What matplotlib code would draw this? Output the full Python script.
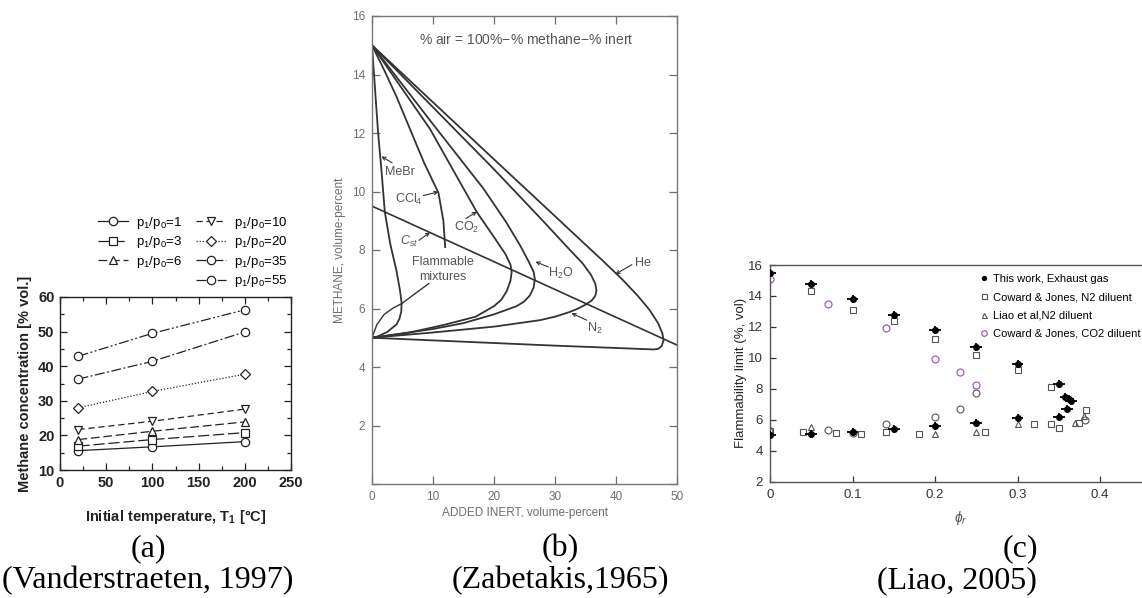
import matplotlib
matplotlib.use("Agg")
import matplotlib.pyplot as plt
from matplotlib.lines import Line2D
from matplotlib.ticker import MultipleLocator

plt.rcParams['font.family'] = ['Liberation Sans', 'DejaVu Sans']
plt.rcParams['mathtext.fontset'] = 'custom'
plt.rcParams['mathtext.rm'] = 'Liberation Sans'
plt.rcParams['mathtext.it'] = 'Liberation Sans:italic'

W, H = 1142, 598

# ---------------- Panel (a) data ----------------
a_temps = [20, 100, 200]
a_ratios = ['1', '3', '6', '10', '20', '35', '55']
a_values = {
    '1':  [15.6, 16.7, 18.2],
    '3':  [16.9, 18.8, 20.8],
    '6':  [18.8, 21.2, 23.9],
    '10': [21.7, 24.1, 27.6],
    '20': [28.0, 32.7, 37.7],
    '35': [36.3, 41.4, 49.9],
    '55': [42.9, 49.5, 56.3],
}
a_markers = {'1': 'o', '3': 's', '6': '^', '10': 'v', '20': 'D', '35': 'o', '55': 'o'}
a_styles = {'1': '-', '3': (0, (9, 3)), '6': (0, (7, 3)), '10': (0, (5, 3)),
            '20': (0, (1, 1.5)), '35': (0, (8, 2, 1.5, 2)), '55': (0, (8, 2, 1.5, 2, 1.5, 2))}

# ---------------- Panel (b) data ----------------
b_curves = {
    'He':   ([0, 20, 38, 41, 43.5, 45.5, 46.9, 47.6, 47.8, 47.5, 46.9, 46.2, 40, 30, 20, 10, 0],
             [15, 11.1, 7.6, 7.0, 6.45, 5.95, 5.5, 5.15, 4.92, 4.72, 4.62, 4.6, 4.65, 4.73, 4.82, 4.91, 5.0]),
    'N2':   ([0, 10, 20, 28, 32, 34.5, 35.9, 36.6, 36.8, 36.6, 36.0, 35.0, 33.8, 32.4, 30, 27.5, 20, 10, 0],
             [15, 12.88, 10.76, 9.0, 8.1, 7.55, 7.15, 6.85, 6.62, 6.43, 6.27, 6.13, 6.0, 5.88, 5.72, 5.6, 5.38, 5.18, 5.0]),
    'H2O':  ([0, 10, 18.3, 22, 24.3, 25.7, 26.5, 26.7, 26.5, 25.9, 24.9, 23.7, 20, 15, 10, 5, 0],
             [15, 12.3, 10.09, 8.95, 8.15, 7.6, 7.25, 7.0, 6.72, 6.45, 6.23, 6.08, 5.8, 5.5, 5.3, 5.15, 5.0]),
    'CO2':  ([0, 9.5, 17.2, 20.3, 21.9, 22.7, 22.9, 22.7, 22.1, 21.2, 20.0, 17, 12, 6, 0],
             [15, 12.14, 9.29, 8.35, 7.85, 7.5, 7.25, 6.95, 6.6, 6.3, 6.08, 5.72, 5.45, 5.17, 5.0]),
    'CCl4': ([0, 2, 4, 6.3, 8.5, 10.9, 11.7, 12.0],
             [15, 14.15, 13.25, 12.1, 11.0, 9.95, 9.0, 8.1]),
    'MeBr': ([0, 0.5, 1.0, 1.6, 2.1, 3.0, 4.0, 4.6, 4.85, 4.8, 4.5, 4.0, 2.5, 1.0, 0],
             [15, 13.5, 12.0, 10.6, 9.3, 8.2, 7.3, 6.6, 6.2, 5.9, 5.65, 5.45, 5.2, 5.05, 5.0]),
}
b_stoich_x = [0, 50]
b_stoich_y = [9.5, 4.75]
b_flam_pointer_x = [0, 0.8, 2.0, 3.5, 4.9, 7.0, 9.3]
b_flam_pointer_y = [5.0, 5.45, 5.8, 6.02, 6.17, 6.5, 6.85]
# label, text centre, arrow tail, arrow head
b_labels = [
    ('MeBr', (4.6, 10.65), (3.3, 10.98), (1.55, 11.2)),
    ('CCl$_4$', (6.0, 9.72), (8.4, 9.86), (10.9, 9.99)),
    ('CO$_2$', (15.5, 8.77), (15.4, 9.08), (17.2, 9.31)),
    ('$C_{st}$', (6.1, 8.3), (7.7, 8.33), (9.5, 8.6)),
    ('H$_2$O', (31.0, 7.2), (28.9, 7.42), (26.8, 7.6)),
    ('N$_2$', (36.6, 5.33), (35.2, 5.6), (32.7, 5.84)),
    ('He', (44.4, 7.55), (42.6, 7.5), (39.9, 7.17)),
]

# ---------------- Panel (c) data ----------------
c_this_x = [0, 0, 0.05, 0.05, 0.1, 0.1, 0.15, 0.15, 0.2, 0.2, 0.25, 0.25, 0.3, 0.3,
            0.35, 0.35, 0.358, 0.362, 0.365, 0.36]
c_this_y = [15.5, 5.0, 14.8, 5.1, 13.8, 5.2, 12.8, 5.4, 11.8, 5.6, 10.7, 5.8, 9.6, 6.1,
            8.3, 6.2, 7.5, 7.35, 7.2, 6.7]
c_cjn2_x = [0, 0.04, 0.05, 0.08, 0.1, 0.11, 0.14, 0.15, 0.18, 0.2, 0.25, 0.26, 0.3,
            0.32, 0.34, 0.34, 0.35, 0.375, 0.383]
c_cjn2_y = [5.3, 5.2, 14.3, 5.15, 13.1, 5.1, 5.2, 12.35, 5.05, 11.2, 10.2, 5.2, 9.2,
            5.7, 8.1, 5.7, 5.5, 5.8, 6.65]
c_liao_x = [0, 0.05, 0.2, 0.25, 0.3, 0.37, 0.38]
c_liao_y = [5.4, 5.55, 5.1, 5.2, 5.75, 5.8, 6.25]
c_cjco2_x = [0, 0.07, 0.14, 0.2, 0.23, 0.25]
c_cjco2_y = [15.1, 13.45, 11.9, 9.95, 9.1, 8.25]
c_grey_x = [0.07, 0.1, 0.14, 0.2, 0.23, 0.25, 0.382]
c_grey_y = [5.35, 5.15, 5.75, 6.2, 6.7, 7.75, 6.0]

captions = [('(a)', '(Vanderstraeten, 1997)', 148, 148),
            ('(b)', '(Zabetakis,1965)', 560, 560),
            ('(c)', '(Liao, 2005)', 1020, 957)]


def ax_rect(x0, y0, x1, y1):
    return [x0 / W, 1 - y1 / H, (x1 - x0) / W, (y1 - y0) / H]


fig = plt.figure(figsize=(W / 100, H / 100), dpi=100)

# ================= Panel (a) =================
axa = fig.add_axes(ax_rect(60, 297, 291, 470))
handles = []
for r in a_ratios:
    h, = axa.plot(a_temps, a_values[r], color='#222222', lw=0.9, ls=a_styles[r],
                  marker=a_markers[r], ms=6 if a_markers[r] != 'D' else 5,
                  mfc='white', mec='#222222', mew=0.9,
                  label=r'p$_\mathregular{1}$/p$_\mathregular{0}$=' + r)
    handles.append(h)
axa.set_xlim(0, 250)
axa.set_ylim(10, 60)
axa.xaxis.set_major_locator(MultipleLocator(50))
axa.xaxis.set_minor_locator(MultipleLocator(25))
axa.yaxis.set_major_locator(MultipleLocator(10))
axa.yaxis.set_minor_locator(MultipleLocator(5))
axa.tick_params(which='both', direction='in', top=True, right=True, width=0.9,
                labelsize=10.5, colors='#222222', pad=4)
axa.tick_params(which='major', length=5)
axa.tick_params(which='minor', length=3)
for lab in axa.get_xticklabels() + axa.get_yticklabels():
    lab.set_fontweight('bold')
for s in axa.spines.values():
    s.set_linewidth(1.0)
    s.set_color('#222222')
axa.set_ylabel('Methane concentration [% vol.]', fontsize=10.5, fontweight='bold',
               color='#222222', labelpad=4)
axa.set_xlabel(r'Initial temperature, T$_\mathregular{1}$ [°C]', fontsize=10.5,
               fontweight='bold', color='#222222', labelpad=13)
blank = Line2D([], [], lw=0, marker=None)
leg_h = handles[:3] + [blank] + handles[3:]
leg_l = [h.get_label() for h in handles[:3]] + [''] + [h.get_label() for h in handles[3:]]
fig.legend(leg_h, leg_l, ncol=2, loc='upper left', bbox_to_anchor=(98 / W, 1 - 215 / H),
           frameon=False, fontsize=9.5, handlelength=2.3, handletextpad=0.6,
           columnspacing=1.0, labelspacing=0.26, borderaxespad=0, borderpad=0)

# ================= Panel (b) =================
grey = '#6e6e6e'
axb = fig.add_axes(ax_rect(372, 16, 677, 484))
for name, (xs, ys) in b_curves.items():
    axb.plot(xs, ys, color='#333333', lw=1.3, solid_joinstyle='round')
axb.plot(b_stoich_x, b_stoich_y, color='#333333', lw=1.2)
axb.plot(b_flam_pointer_x, b_flam_pointer_y, color='#333333', lw=1.0)
for txt, tpos, tail, head in b_labels:
    axb.annotate('', xy=head, xytext=tail,
                 arrowprops=dict(arrowstyle='->', color='#333333', lw=0.8, mutation_scale=6,
                                 shrinkA=0, shrinkB=0))
    axb.text(tpos[0], tpos[1], txt, fontsize=9, color='#555555', ha='center', va='center')
axb.text(11.6, 7.58, 'Flammable', fontsize=9, color='#555555', ha='center', va='center')
axb.text(11.6, 7.08, 'mixtures', fontsize=9, color='#555555', ha='center', va='center')
axb.text(25.2, 15.2, '% air = 100%$-$% methane$-$% inert', fontsize=10, color='#555555',
         ha='center', va='center')
axb.set_xlim(0, 50)
axb.set_ylim(0, 16)
axb.xaxis.set_major_locator(MultipleLocator(10))
axb.set_yticks([0, 2, 4, 6, 8, 10, 12, 14, 16])
axb.set_yticklabels(['', '2', '4', '6', '8', '10', '12', '14', '16'])
axb.tick_params(direction='in', top=True, right=True, length=6, width=0.9, colors=grey,
                labelsize=8.5, pad=5)
for s in axb.spines.values():
    s.set_linewidth(1.0)
    s.set_color('#777777')
axb.set_ylabel('METHANE, volume-percent', fontsize=8.5, color=grey, labelpad=4)
axb.set_xlabel('ADDED INERT, volume-percent', fontsize=8.5, color=grey, labelpad=3)

# ================= Panel (c) =================
axc = fig.add_axes(ax_rect(770, 265, 1152, 481.7))
axc.errorbar(c_this_x, c_this_y, xerr=0.007, yerr=0.25, fmt='o', ms=4, color='black',
             ecolor='black', elinewidth=1.3, capsize=0, zorder=5)
h_this = Line2D([], [], ls='none', marker='o', ms=3.5, color='black',
                label='This work, Exhaust gas')
h_n2, = axc.plot(c_cjn2_x, c_cjn2_y, 's', ms=4.5, mfc='none', mec='#555555', mew=0.8,
                 label='Coward & Jones, N2 diluent')
h_liao, = axc.plot(c_liao_x, c_liao_y, '^', ms=4.5, mfc='none', mec='#555555', mew=0.8,
                   label='Liao et al,N2 diluent')
h_co2, = axc.plot(c_cjco2_x, c_cjco2_y, 'o', ms=5, mfc='none', mec='#a060b0', mew=0.9,
                  label='Coward & Jones, CO2 diluent')
axc.plot(c_grey_x, c_grey_y, 'o', ms=5, mfc='none', mec='#555555', mew=0.8)
axc.set_xlim(0, 0.463)
axc.set_ylim(2, 16)
axc.yaxis.set_major_locator(MultipleLocator(2))
axc.set_xticks([0, 0.1, 0.2, 0.3, 0.4])
axc.set_xticklabels(['0', '0.1', '0.2', '0.3', '0.4'])
axc.tick_params(direction='in', length=4, width=0.9, colors='#333333', labelsize=9.5, pad=5)
for s in axc.spines.values():
    s.set_linewidth(1.0)
    s.set_color('#555555')
axc.set_ylabel('Flammability limit (%, vol)', fontsize=9.5, color='#222222', labelpad=1)
axc.set_xlabel(r'$\phi_r$', fontsize=10, color='#555555', labelpad=6)
axc.legend(handles=[h_this, h_n2, h_liao, h_co2], loc='upper left',
           bbox_to_anchor=(980 / W, 1 - 274 / H),
           bbox_transform=fig.transFigure, frameon=False, fontsize=8,
           handlelength=0.8, handletextpad=0.4, labelspacing=0.75, borderpad=0,
           borderaxespad=0, markerscale=0.8)

# ================= Captions =================
for lab, src, x1, x2 in captions:
    fig.text(x1 / W, 1 - 549 / H, lab, fontsize=23, family='Liberation Serif',
             ha='center', va='center')
    fig.text(x2 / W, 1 - 581 / H, src, fontsize=23, family='Liberation Serif',
             ha='center', va='center')

fig.savefig('out.png', dpi=100)
